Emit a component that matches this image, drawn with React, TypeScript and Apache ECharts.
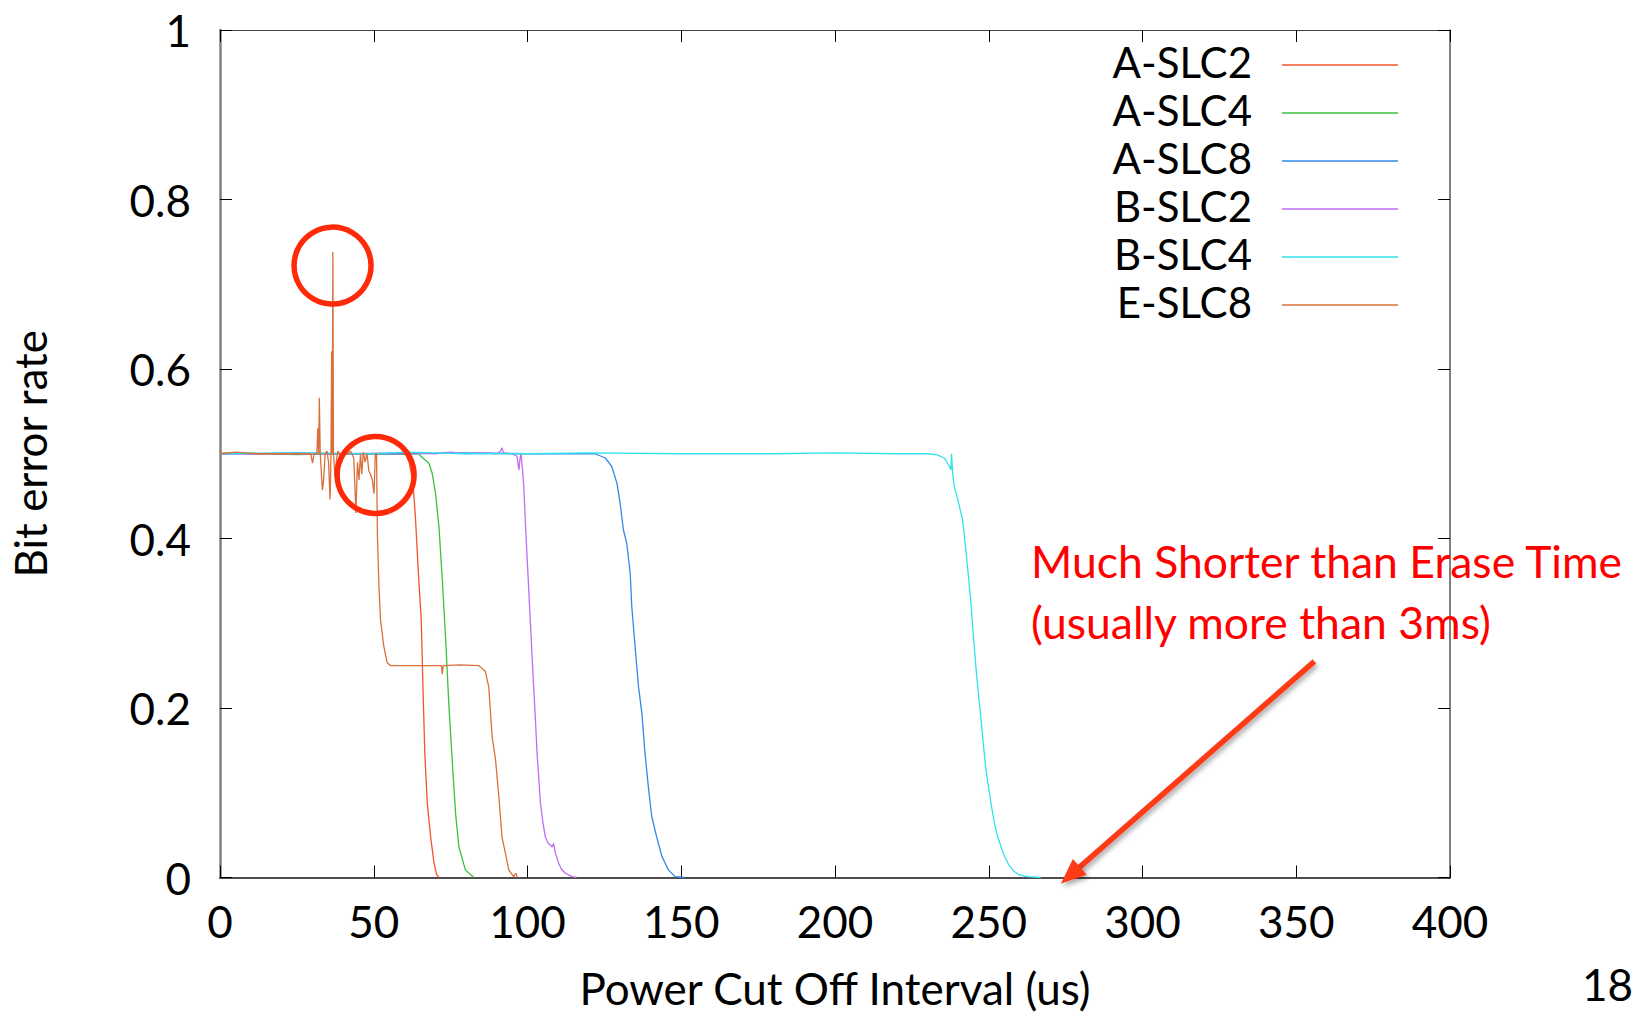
import React, { useEffect, useRef } from "react";
import * as echarts from "echarts";

// ---- axis ranges / ticks ----
const X_MIN = 0;
const X_MAX = 400;
const X_STEP = 50;
const Y_MIN = 0;
const Y_MAX = 1;
const Y_STEP = 0.2;

const xAxisTitle = "Power Cut Off Interval (us)";
const yAxisTitle = "Bit error rate";

// ---- series ----
const seriesNames = ["A-SLC2", "A-SLC4", "A-SLC8", "B-SLC2", "B-SLC4", "E-SLC8"];
const seriesColors = ["#f5532d", "#3cbf3c", "#3388e6", "#bf6cf2", "#2fe3ec", "#d9703c"];

const aSlc2: number[][] = [
  [0, 0.5], [5, 0.501], [10, 0.5], [20, 0.5], [30, 0.5], [40, 0.5], [50, 0.5], [55, 0.5],
  [58, 0.5], [60.4, 0.499], [61.5, 0.49], [62.3, 0.475], [63.1, 0.449], [63.6, 0.422],
  [64.5, 0.36], [65.45, 0.304], [66.0, 0.225], [66.6, 0.147], [67.4, 0.088], [68.5, 0.048],
  [69.6, 0.017], [70.4, 0.004], [71.2, 0],
];

const aSlc4: number[][] = [
  [0, 0.5], [6, 0.501], [15, 0.5], [25, 0.499], [35, 0.5], [45, 0.5], [55, 0.5], [60, 0.5],
  [64.7, 0.5], [65.3, 0.497], [67.9, 0.489], [69.0, 0.477], [70.1, 0.453], [71.2, 0.414],
  [72.3, 0.351], [73.4, 0.28], [74.4, 0.206], [75.5, 0.139], [76.6, 0.076], [77.7, 0.036],
  [79.8, 0.009], [82.5, 0],
];

const aSlc8: number[][] = [
  [0, 0.5], [10, 0.5], [25, 0.501], [40, 0.5], [60, 0.5], [80, 0.501], [100, 0.5], [110, 0.5],
  [117.7, 0.5], [122.0, 0.5], [125.3, 0.495], [127.4, 0.485], [129.1, 0.465], [130.1, 0.442],
  [131.2, 0.41], [132.3, 0.394], [133.4, 0.359], [133.9, 0.32], [135.0, 0.272], [136.1, 0.225],
  [137.2, 0.194], [138.2, 0.147], [139.3, 0.107], [140.4, 0.072], [142.0, 0.048], [143.7, 0.025],
  [145.8, 0.009], [148.0, 0.001], [151.2, 0],
];

const bSlc2: number[][] = [
  [0, 0.5], [20, 0.5], [40, 0.5], [60, 0.501], [70, 0.5], [75, 0.502], [80, 0.5], [85, 0.501],
  [90, 0.5], [91.2, 0.503], [91.7, 0.507], [92.2, 0.501], [95, 0.5], [96.6, 0.497], [97.2, 0.481],
  [97.6, 0.495], [97.9, 0.5], [98.4, 0.48], [98.8, 0.461], [99.3, 0.42], [99.8, 0.383],
  [100.4, 0.34], [100.9, 0.304], [101.5, 0.26], [102.0, 0.225], [102.6, 0.185], [103.1, 0.147],
  [103.7, 0.115], [104.2, 0.088], [105.0, 0.065], [105.8, 0.048], [106.8, 0.04], [107.5, 0.038],
  [108.0, 0.036], [108.5, 0.04], [109.0, 0.03], [110.1, 0.017], [111.0, 0.01], [112.3, 0.005],
  [114.4, 0.001], [116.0, 0],
];

const bSlc4: number[][] = [
  [0, 0.5], [20, 0.501], [50, 0.5], [60, 0.502], [80, 0.5], [100, 0.5], [120, 0.501], [150, 0.5],
  [180, 0.5], [200, 0.501], [220, 0.5], [230, 0.5], [233, 0.499], [235.6, 0.495], [237.2, 0.485],
  [237.7, 0.481], [237.9, 0.5], [238.3, 0.475], [238.8, 0.461], [240.0, 0.445], [241.5, 0.422],
  [242.3, 0.395], [243.2, 0.363], [244.2, 0.324], [245.0, 0.285], [245.9, 0.245], [246.7, 0.215],
  [247.5, 0.186], [248.3, 0.155], [249.1, 0.127], [250.7, 0.088], [251.8, 0.065], [252.9, 0.048],
  [255.1, 0.025], [256.5, 0.015], [258.3, 0.007], [260.0, 0.003], [262.6, 0.001], [266.9, 0],
];

const eSlc8: number[][] = [
  [0, 0.5], [5, 0.502], [8, 0.501], [12, 0.5], [20, 0.5], [25, 0.5], [28, 0.5], [29.5, 0.5],
  [30.1, 0.489], [30.6, 0.5], [31.5, 0.5], [31.8, 0.53], [32.1, 0.5], [32.3, 0.566], [32.6, 0.5],
  [33.3, 0.457], [33.7, 0.469], [34.2, 0.5], [34.8, 0.503], [35.3, 0.49], [35.8, 0.446],
  [36.1, 0.5], [36.3, 0.621], [36.5, 0.5], [36.7, 0.738], [36.9, 0.5], [37.4, 0.473], [37.8, 0.49],
  [38.3, 0.503], [38.9, 0.5], [39.5, 0.49], [40.3, 0.5], [41.5, 0.5], [42.5, 0.503], [43.5, 0.495],
  [44.2, 0.43], [44.7, 0.49], [45.2, 0.469], [45.7, 0.5], [46.1, 0.476], [46.6, 0.502], [47.2, 0.49],
  [47.8, 0.5], [48.4, 0.48], [48.9, 0.476], [49.5, 0.47], [50.1, 0.453], [50.5, 0.5], [50.9, 0.5],
  [51.2, 0.402], [51.7, 0.343], [52.2, 0.304], [53.3, 0.272], [54.4, 0.253], [55.5, 0.25],
  [60, 0.25], [65, 0.25], [70, 0.25], [72.0, 0.25], [72.3, 0.24], [72.6, 0.25], [78, 0.251],
  [84.2, 0.25], [86.3, 0.243], [87.4, 0.225], [88.5, 0.166], [89.6, 0.139], [90.7, 0.095],
  [91.7, 0.048], [92.8, 0.029], [93.9, 0.009], [95.5, 0.001], [96.2, 0.005], [96.7, 0],
];

const seriesData = [aSlc2, aSlc4, aSlc8, bSlc2, bSlc4, eSlc8];

// ---- annotations (data coordinates) ----
const circleCenters: number[][] = [
  [36.6, 0.722],
  [50.6, 0.475],
];
const annotationLines = ["Much Shorter than Erase Time", "(usually more than 3ms)"];
const arrowFrom = [355.9, 0.255];
const arrowTo = [273.5, -0.007];
const pageNumber = "18";

const FONT = "Lato, 'Liberation Sans', sans-serif";

export default function App() {
  const ref = useRef<HTMLDivElement>(null);

  useEffect(() => {
    if (!ref.current) return;
    const chart = echarts.init(ref.current, undefined, { renderer: "svg" });

    const grid = { left: 217, top: 30, right: 188, bottom: 139.5 };

    const tickStyle = { show: true, inside: true, length: 12, lineStyle: { color: "#000", width: 1 } };

    chart.setOption({
      animation: false,
      backgroundColor: "#ffffff",
      grid: { ...grid, containLabel: false },
      xAxis: [
        {
          type: "value",
          min: X_MIN,
          max: X_MAX,
          interval: X_STEP,
          position: "bottom",
          axisLine: { show: true, onZero: false, lineStyle: { color: "#4d4d4d", width: 2 } },
          axisTick: tickStyle,
          axisLabel: { fontFamily: FONT, fontSize: 44, color: "#000", margin: 21 },
          splitLine: { show: false },
          name: xAxisTitle,
          nameLocation: "middle",
          nameGap: 88,
          nameTextStyle: { fontFamily: FONT, fontSize: 44, color: "#000" },
        },
        {
          type: "value",
          min: X_MIN,
          max: X_MAX,
          interval: X_STEP,
          position: "top",
          axisLine: { show: true, onZero: false, lineStyle: { color: "#444", width: 1 } },
          axisTick: tickStyle,
          axisLabel: { show: false },
          splitLine: { show: false },
        },
      ],
      yAxis: [
        {
          type: "value",
          min: Y_MIN,
          max: Y_MAX,
          interval: Y_STEP,
          position: "left",
          axisLine: { show: true, onZero: false, lineStyle: { color: "#808080", width: 2.5 } },
          axisTick: tickStyle,
          axisLabel: { fontFamily: FONT, fontSize: 44, color: "#000", margin: 29 },
          splitLine: { show: false },
          name: yAxisTitle,
          nameLocation: "middle",
          nameRotate: 90,
          nameGap: 168,
          nameTextStyle: { fontFamily: FONT, fontSize: 44, color: "#000" },
        },
        {
          type: "value",
          min: Y_MIN,
          max: Y_MAX,
          interval: Y_STEP,
          position: "right",
          axisLine: { show: true, onZero: false, lineStyle: { color: "#555", width: 1.5 } },
          axisTick: tickStyle,
          axisLabel: { show: false },
          splitLine: { show: false },
        },
      ],
      series: seriesNames.map((name, i) => ({
        name,
        type: "line",
        data: seriesData[i],
        xAxisIndex: 0,
        yAxisIndex: 0,
        showSymbol: false,
        symbol: "none",
        clip: true,
        lineStyle: { color: seriesColors[i], width: 1.3 },
        itemStyle: { color: seriesColors[i] },
        z: 2 + i,
      })),
    });

    // annotation graphics built from converted coordinates
    const toPx = (p: number[]) => chart.convertToPixel({ xAxisIndex: 0, yAxisIndex: 0 }, p) as number[];

    const elements: any[] = [];

    // legend
    const legendTextRight = 1252;
    const legendLineX0 = 1282;
    const legendLineX1 = 1398;
    const legendY0 = 65;
    const legendGap = 48;
    seriesNames.forEach((name, i) => {
      const y = legendY0 + legendGap * i;
      elements.push({
        type: "text",
        x: legendTextRight,
        y: y - 3,
        style: {
          text: name,
          fill: "#000",
          font: `42px ${FONT}`,
          align: "right",
          verticalAlign: "middle",
        },
        z: 20,
      });
      elements.push({
        type: "line",
        shape: { x1: legendLineX0, y1: y, x2: legendLineX1, y2: y },
        style: { stroke: seriesColors[i], lineWidth: 1.5 },
        z: 20,
      });
    });

    // circles
    circleCenters.forEach((c) => {
      const p = toPx(c);
      elements.push({
        type: "circle",
        shape: { cx: p[0], cy: p[1], r: 38.5 },
        style: { fill: "none", stroke: "#ff2a0a", lineWidth: 5.5 },
        z: 30,
      });
    });

    // arrow
    const a0 = toPx(arrowFrom);
    const a1 = toPx(arrowTo);
    const dx = a1[0] - a0[0];
    const dy = a1[1] - a0[1];
    const len = Math.sqrt(dx * dx + dy * dy);
    const ux = dx / len;
    const uy = dy / len;
    const headLen = 25;
    const headHalf = 10.5;
    const bx = a1[0] - ux * headLen;
    const by = a1[1] - uy * headLen;
    const px = -uy;
    const py = ux;
    const shadow = { shadowBlur: 5, shadowColor: "rgba(0,0,0,0.35)", shadowOffsetX: 2, shadowOffsetY: 3 };
    elements.push({
      type: "line",
      shape: { x1: a0[0], y1: a0[1], x2: bx + ux * 4, y2: by + uy * 4 },
      style: { stroke: "#fd3a17", lineWidth: 5.5, ...shadow },
      z: 30,
    });
    elements.push({
      type: "polygon",
      shape: {
        points: [
          [a1[0], a1[1]],
          [bx + px * headHalf, by + py * headHalf],
          [bx - px * headHalf, by - py * headHalf],
        ],
      },
      style: { fill: "#fd3a17", ...shadow },
      z: 30,
    });

    // annotation text
    annotationLines.forEach((t, i) => {
      elements.push({
        type: "text",
        x: 1031,
        y: 560 + 61 * i,
        style: {
          text: t,
          fill: "#ff0000",
          font: `44.5px ${FONT}`,
          align: "left",
          verticalAlign: "middle",
        },
        z: 30,
      });
    });

    // page number
    elements.push({
      type: "text",
      x: 1582,
      y: 984,
      style: {
        text: pageNumber,
        fill: "#000",
        font: `44px ${FONT}`,
        align: "left",
        verticalAlign: "middle",
      },
      z: 30,
    });

    chart.setOption({ graphic: { elements } });

    return () => {
      chart.dispose();
    };
  }, []);

  return (
    <div
      ref={ref}
      style={{
        position: "fixed",
        left: 0,
        top: 0,
        width: 1638,
        height: 1017,
        background: "#fff",
        overflow: "hidden",
      }}
    />
  );
}
